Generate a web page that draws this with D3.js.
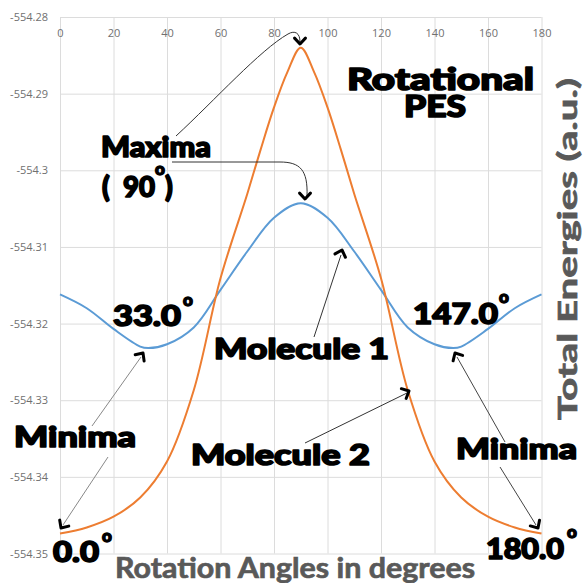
<!DOCTYPE html>
<html>
<head>
<meta charset="utf-8">
<script src="https://cdn.jsdelivr.net/npm/d3@7/dist/d3.min.js"></script>
<style>
  html, body { margin: 0; padding: 0; background: #fff; }
  svg { display: block; }
</style>
</head>
<body>
<svg id="chart" width="585" height="583"></svg>
<script>
// ---- data ----
const xTicks = [0, 20, 40, 60, 80, 100, 120, 140, 160, 180];
const yTicks = [-554.35, -554.34, -554.33, -554.32, -554.31, -554.30, -554.29, -554.28];

const angles1 = [0, 10, 20, 30, 33, 40, 50, 60, 70, 80, 90, 100, 110, 120, 130, 140, 147, 150, 160, 170, 180];
const molecule1 = [-554.3162, -554.3180, -554.3207, -554.3230, -554.3232, -554.3227, -554.3205, -554.3156, -554.3106, -554.3062, -554.3043,
                   -554.3062, -554.3106, -554.3156, -554.3205, -554.3227, -554.3232, -554.3230, -554.3207, -554.3180, -554.3162];

const angles2 = [0, 10, 20, 30, 40, 50, 60, 70, 75, 80, 85, 90, 95, 100, 105, 110, 120, 130, 140, 150, 160, 170, 180];
const molecule2 = [-554.3474, -554.3466, -554.3452, -554.3427, -554.3380, -554.3287, -554.3141, -554.3031, -554.2973, -554.2918, -554.2872, -554.2840,
                   -554.2872, -554.2918, -554.2973, -554.3031, -554.3141, -554.3287, -554.3380, -554.3427, -554.3452, -554.3466, -554.3474];

// ---- layout ----
const svg = d3.select("#chart");
const x = d3.scaleLinear().domain([0, 180]).range([60, 541.5]);
const y = d3.scaleLinear().domain([-554.35, -554.28]).range([553.5, 17]);
const plotW = x(180) - x(0), plotH = y(-554.35) - y(-554.28);
const tickColor = "#707070";
const gridColor = "#dcdcdc";

// grid
svg.append("g").attr("transform", `translate(0,${y(-554.28)})`)
  .call(d3.axisBottom(x).tickValues(xTicks).tickSize(plotH).tickFormat(""))
  .call(g => g.select(".domain").remove())
  .call(g => g.selectAll("line").attr("stroke", gridColor));
svg.append("g").attr("transform", `translate(${x(0)},0)`)
  .call(d3.axisLeft(y).tickValues(yTicks).tickSize(-plotW).tickFormat(""))
  .call(g => g.select(".domain").remove())
  .call(g => g.selectAll("line").attr("stroke", gridColor));

// tick labels
svg.append("g").attr("transform", `translate(0,${y(-554.28)})`)
  .call(d3.axisBottom(x).tickValues(xTicks).tickSize(0).tickPadding(12).tickFormat(d => String(d)))
  .call(g => g.select(".domain").remove())
  .call(g => g.selectAll("text").attr("fill", tickColor).style("font", "11px 'Open Sans', sans-serif"));
svg.append("g").attr("transform", `translate(${x(0)},0)`)
  .call(d3.axisLeft(y).tickValues(yTicks).tickSize(0).tickPadding(12).tickFormat(d => String(+d.toFixed(2))))
  .call(g => g.select(".domain").remove())
  .call(g => g.selectAll("text").attr("fill", tickColor).style("font", "11px 'Open Sans', sans-serif"));

// lines
const line = d3.line().curve(d3.curveCatmullRom.alpha(0.5));
svg.append("path")
  .attr("d", line(angles1.map((a, i) => [x(a), y(molecule1[i])])))
  .attr("fill", "none").attr("stroke", "#5b9bd5").attr("stroke-width", 2);
svg.append("path")
  .attr("d", line(angles2.map((a, i) => [x(a), y(molecule2[i])])))
  .attr("fill", "none").attr("stroke", "#ed7d31").attr("stroke-width", 2);

// ---- annotations ----
const bigFont = "Lato, 'DejaVu Sans', sans-serif";
function label(txt, x0, yb, size, len) {
  const t = svg.append("text").attr("x", x0).attr("y", yb)
    .attr("font-family", bigFont).attr("font-weight", 900)
    .attr("font-size", size).attr("fill", "#000")
    .attr("stroke", "#000").attr("stroke-width", 1.6).attr("stroke-linejoin", "round")
    .text(txt);
  if (len) t.attr("textLength", len).attr("lengthAdjust", "spacingAndGlyphs");
  return t;
}
function deg(x0, yb, size) {
  svg.append("text").attr("x", x0).attr("y", yb)
    .attr("font-family", bigFont).attr("font-weight", 900)
    .attr("font-size", size).attr("fill", "#000")
    .attr("stroke", "#000").attr("stroke-width", 1.4)
    .text("o");
}

label("Rotational", 347, 90, 31, 187);
label("PES", 404, 117, 30, 62);
label("Maxima", 101, 157, 28, 110);
label("(", 102, 197, 28);
label("90", 123, 197, 28, 32);
deg(155, 175, 17);
label(")", 165, 197, 28);
label("33.0", 113, 326, 28, 68);
deg(183, 306, 17);
label("147.0", 413, 324, 28, 85);
deg(499, 303, 17);
label("Molecule 1", 214, 359, 28, 175);
label("Molecule 2", 191, 465, 28, 179);
label("Minima", 14, 447, 28, 122);
label("Minima", 456, 459, 28, 121);
label("0.0", 53, 562, 28, 46);
deg(102, 542, 17);
label("180.0", 486, 559, 28, 78);
deg(567, 538, 17);

// axis titles
svg.append("text").attr("x", 115).attr("y", 578)
  .attr("font-family", "Lato, 'Open Sans', sans-serif").attr("font-weight", 700)
  .attr("font-size", 29).attr("fill", "#595959")
  .attr("stroke", "#595959").attr("stroke-width", 0.7)
  .attr("textLength", 360).attr("lengthAdjust", "spacingAndGlyphs")
  .text("Rotation Angles in degrees");
svg.append("text").attr("transform", "translate(577,420) rotate(-90)")
  .attr("font-family", "Lato, 'Open Sans', sans-serif").attr("font-weight", 700)
  .attr("font-size", 26).attr("fill", "#595959")
  .attr("stroke", "#595959").attr("stroke-width", 0.7)
  .attr("textLength", 342).attr("lengthAdjust", "spacingAndGlyphs")
  .text("Total Energies (a.u.)");

// arrows
function arrow(d, tip, dir, color) {
  svg.append("path").attr("d", d).attr("fill", "none")
    .attr("stroke", color || "#333").attr("stroke-width", 1);
  const L = 8, spread = 0.75;
  const p1 = [tip[0] - L * Math.cos(dir - spread), tip[1] - L * Math.sin(dir - spread)];
  const p2 = [tip[0] - L * Math.cos(dir + spread), tip[1] - L * Math.sin(dir + spread)];
  svg.append("path")
    .attr("d", `M${p1[0]},${p1[1]}L${tip[0]},${tip[1]}L${p2[0]},${p2[1]}`)
    .attr("fill", "none").attr("stroke", "#000").attr("stroke-width", 3)
    .attr("stroke-linecap", "round").attr("stroke-linejoin", "round");
}
const down = Math.PI / 2;
arrow("M176,136 C215,100 260,50 288,34 C295,30 300,33 300,42", [300, 44], down);
arrow("M172,162 L280,162 C300,162 308,170 307,196", [305, 199], down);
arrow("M314,337 L341,255", [342, 250], Math.atan2(-87, 28));
arrow("M305,443 L407,393", [409, 391], Math.atan2(-50, 102));
arrow("M92,426 L141,357", [143, 353], Math.atan2(-73, 51), "#888");
arrow("M108,457 L63,525", [61, 528], Math.atan2(68, -45), "#888");
arrow("M505,442 L457,357", [455, 353], Math.atan2(-89, -50), "#444");
arrow("M500,467 L536,525", [538, 528], Math.atan2(61, 38), "#444");
</script>
</body>
</html>
